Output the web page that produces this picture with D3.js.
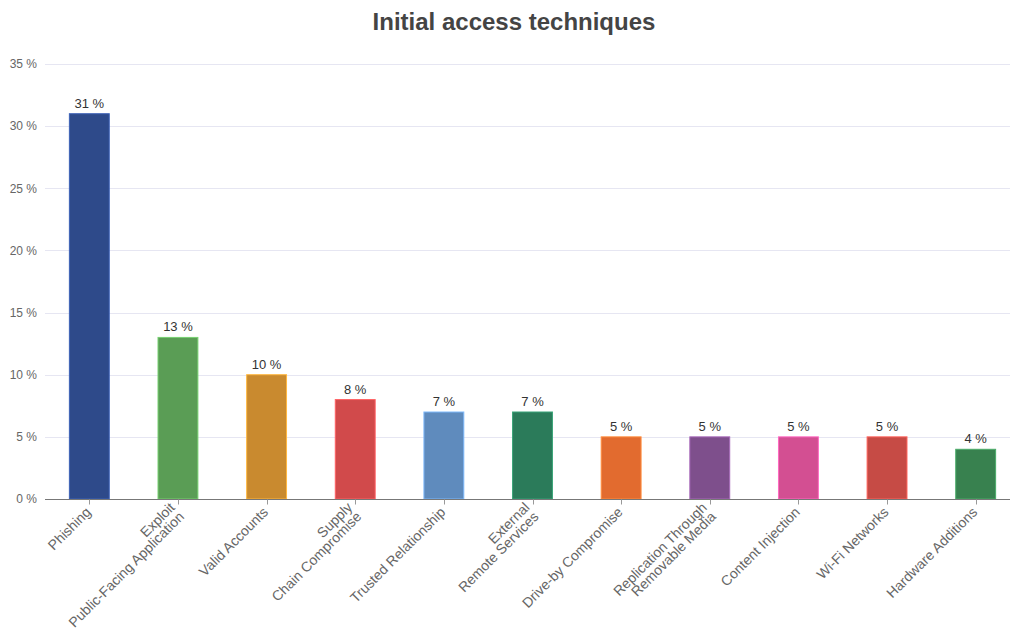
<!DOCTYPE html>
<html>
<head>
<meta charset="utf-8">
<script src="https://cdn.jsdelivr.net/npm/d3@7"></script>
<style>
  body { margin: 0; background: #fff; }
  svg { display: block; font-family: Helvetica, Arial, "Liberation Sans", sans-serif; }
</style>
</head>
<body>
<div id="chart"></div>
<script>
// data
var techniques = [
  "Phishing",
  "Exploit\nPublic-Facing Application",
  "Valid Accounts",
  "Supply\nChain Compromise",
  "Trusted Relationship",
  "External\nRemote Services",
  "Drive-by Compromise",
  "Replication Through\nRemovable Media",
  "Content Injection",
  "Wi-Fi Networks",
  "Hardware Additions"
];
var shares = [31, 13, 10, 8, 7, 7, 5, 5, 5, 5, 4];
var barColors = ["#2e4a8a", "#5a9d55", "#c98a2f", "#d14a4b", "#5f8bbd", "#2b7b5a",
                 "#e26b2f", "#7e4f8c", "#d34f92", "#c64b45", "#38814f"];
var yTicks = [0, 5, 10, 15, 20, 25, 30, 35];

var width = 1010, height = 632;
var margin = { top: 64, left: 45, bottom: 133 };

var svg = d3.select("#chart").append("svg")
  .attr("width", width)
  .attr("height", height);

var x = d3.scaleBand().domain(techniques).range([margin.left, 1020]);
var y = d3.scaleLinear().domain([0, 35]).range([height - margin.bottom, margin.top]);

// title
svg.append("text")
  .attr("x", 514)
  .attr("y", 30)
  .attr("text-anchor", "middle")
  .style("font-size", "24px")
  .style("font-weight", "bold")
  .style("fill", "#444")
  .text("Initial access techniques");

// gridlines
svg.append("g")
  .selectAll("line")
  .data(yTicks.slice(1))
  .enter().append("line")
  .attr("x1", margin.left)
  .attr("x2", width)
  .attr("y1", function(d) { return Math.round(y(d)) + 0.5; })
  .attr("y2", function(d) { return Math.round(y(d)) + 0.5; })
  .attr("stroke", "#e6e6f2")
  .attr("stroke-width", 1);

// y axis labels
var yAxis = d3.axisLeft(y)
  .tickValues(yTicks)
  .tickSize(0)
  .tickPadding(8)
  .tickFormat(function(d) { return d + " %"; });

svg.append("g")
  .attr("transform", "translate(" + margin.left + ",0)")
  .call(yAxis)
  .call(function(g) { g.select(".domain").remove(); })
  .selectAll("text")
  .style("font-size", "12px")
  .style("font-family", "Helvetica, Arial, 'Liberation Sans', sans-serif")
  .style("fill", "#666");

// bars
var bw = x.bandwidth() * 0.45;
svg.selectAll(".bar")
  .data(shares)
  .enter().append("rect")
  .attr("class", "bar")
  .attr("x", function(d, i) { return x(techniques[i]) + (x.bandwidth() - bw) / 2; })
  .attr("y", function(d) { return y(d); })
  .attr("width", bw)
  .attr("height", function(d) { return y(0) - y(d); })
  .attr("fill", function(d, i) { return barColors[i]; })
  .attr("stroke", function(d, i) { return d3.color(barColors[i]).brighter(0.8); })
  .attr("stroke-width", 1);

// value labels
svg.selectAll(".val")
  .data(shares)
  .enter().append("text")
  .attr("class", "val")
  .attr("x", function(d, i) { return x(techniques[i]) + x.bandwidth() / 2; })
  .attr("y", function(d) { return y(d) - 6; })
  .attr("text-anchor", "middle")
  .style("font-size", "13px")
  .style("fill", "#333")
  .text(function(d) { return d + " %"; });

// x axis
var baseY = Math.round(y(0)) + 0.5;
svg.append("line")
  .attr("x1", margin.left)
  .attr("x2", width)
  .attr("y1", baseY)
  .attr("y2", baseY)
  .attr("stroke", "#777")
  .attr("stroke-width", 1);

svg.selectAll(".tick-mark")
  .data(techniques)
  .enter().append("line")
  .attr("class", "tick-mark")
  .attr("x1", function(d) { return Math.round(x(d) + x.bandwidth() / 2) + 0.5; })
  .attr("x2", function(d) { return Math.round(x(d) + x.bandwidth() / 2) + 0.5; })
  .attr("y1", baseY)
  .attr("y2", baseY + 5)
  .attr("stroke", "#999");

// rotated category labels
var lab = svg.selectAll(".cat")
  .data(techniques)
  .enter().append("text")
  .attr("class", "cat")
  .attr("text-anchor", "end")
  .attr("transform", function(d) {
    return "translate(" + (x(d) + x.bandwidth() / 2 - 1) + "," + (baseY + 10) + ") rotate(-45)";
  })
  .style("font-size", "14px")
  .style("fill", "#666");

lab.each(function(d) {
  var lines = d.split("\n");
  var t = d3.select(this);
  lines.forEach(function(s, i) {
    t.append("tspan")
      .attr("x", 0)
      .attr("y", (i - (lines.length - 1) / 2) * 13)
      .attr("dy", "0.35em")
      .text(s);
  });
});
</script>
</body>
</html>
